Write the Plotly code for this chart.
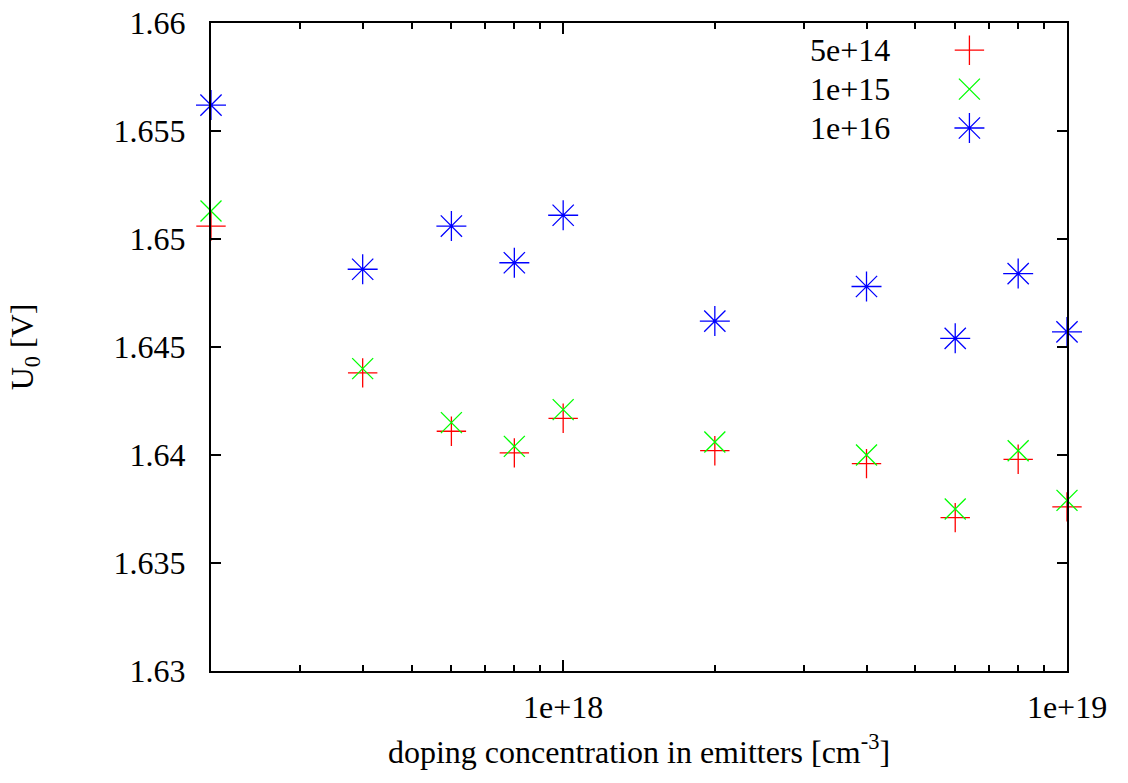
import math
import plotly.graph_objects as go

# doping concentration in emitters [cm^-3]
conc = [2e17, 4e17, 6e17, 8e17, 1e18, 2e18, 4e18, 6e18, 8e18, 1e19]

u0_5e14 = [1.6506, 1.6438, 1.6411, 1.6401, 1.6417, 1.6402, 1.6396, 1.6371, 1.6398, 1.6376]
u0_1e15 = [1.6513, 1.6440, 1.6415, 1.6404, 1.6421, 1.6406, 1.6400, 1.6375, 1.6402, 1.6379]
u0_1e16 = [1.6562, 1.6486, 1.6506, 1.6489, 1.6511, 1.6462, 1.6478, 1.6454, 1.6484, 1.6457]

series_names = ["5e+14", "1e+15", "1e+16"]
series_colors = ["#ff0000", "#00ff00", "#0000ff"]
series_symbols = ["cross-thin-open", "x-thin-open", "asterisk-open"]
series_sizes = [21, 21, 25]
series_values = [u0_5e14, u0_1e15, u0_1e16]

y_ticks = [1.63, 1.635, 1.64, 1.645, 1.65, 1.655, 1.66]
y_ticktext = ["1.63", "1.635", "1.64", "1.645", "1.65", "1.655", "1.66"]
x_ticks = [1e18, 1e19]
x_ticktext = ["1e+18", "1e+19"]
x_minor = [3e17, 4e17, 5e17, 6e17, 7e17, 8e17, 9e17,
           2e18, 3e18, 4e18, 5e18, 6e18, 7e18, 8e18, 9e18]

FONT = "Liberation Serif"

fig = go.Figure()
for name, col, sym, sz, vals in zip(series_names, series_colors, series_symbols, series_sizes, series_values):
    fig.add_trace(go.Scatter(
        x=conc, y=vals, mode="markers", name=name, showlegend=False,
        marker=dict(symbol=sym, size=sz, color=col, line=dict(color=col, width=1.3)),
        cliponaxis=False,
    ))

# manual gnuplot-style legend (text right-justified, sample on the right)
legend_y = [0.958, 0.898, 0.838]
for name, col, sym, sz, ly in zip(series_names, series_colors, series_symbols, series_sizes, legend_y):
    fig.add_trace(go.Scatter(
        x=[0.886], y=[ly], xaxis="x2", yaxis="y2", mode="markers", showlegend=False,
        marker=dict(symbol=sym, size=sz, color=col, line=dict(color=col, width=1.3)),
        hoverinfo="skip",
    ))
    fig.add_annotation(x=0.795, y=ly, xref="x2", yref="y2", text=name, showarrow=False,
                       xanchor="right", yanchor="middle",
                       font=dict(family=FONT, size=32, color="black"))

fig.update_layout(
    width=1128, height=783,
    margin=dict(l=211, r=61, t=23, b=112, autoexpand=False),
    paper_bgcolor="white", plot_bgcolor="white",
    font=dict(family=FONT, size=32, color="black"),
    xaxis=dict(
        type="log", range=[math.log10(2e17) - 1e-6, 19.0 + 1e-6],
        tickvals=x_ticks, ticktext=x_ticktext, automargin=False,
        ticks="inside", ticklen=11, tickwidth=1.5, tickcolor="black",
        ticklabelstandoff=7, ticklabeloverflow="allow",
        showline=True, linecolor="black", linewidth=2, mirror="allticks",
        showgrid=False, zeroline=False,
        minor=dict(ticks="inside", ticklen=6, tickwidth=1.5, tickcolor="black",
                   tickvals=x_minor, showgrid=False),
        title=dict(text="doping concentration in emitters [cm<sup>-3</sup>]",
                   font=dict(family=FONT, size=32), standoff=16),
        tickfont=dict(family=FONT, size=32),
    ),
    yaxis=dict(
        range=[1.63, 1.66],
        tickvals=y_ticks, ticktext=y_ticktext, automargin=False,
        ticks="inside", ticklen=10, tickwidth=1.5, tickcolor="black",
        ticklabelstandoff=17, ticklabeloverflow="allow",
        showline=True, linecolor="black", linewidth=2, mirror="allticks",
        showgrid=False, zeroline=False,
        title=dict(text="U<sub>0</sub> [V]", font=dict(family=FONT, size=32), standoff=70),
        tickfont=dict(family=FONT, size=32),
    ),
    xaxis2=dict(range=[0, 1], overlaying="x", visible=False, anchor="y2"),
    yaxis2=dict(range=[0, 1], overlaying="y", visible=False, anchor="x2"),
)

fig.write_html("out.html", config={"displayModeBar": False},
               post_script="document.body.style.margin='0';")
